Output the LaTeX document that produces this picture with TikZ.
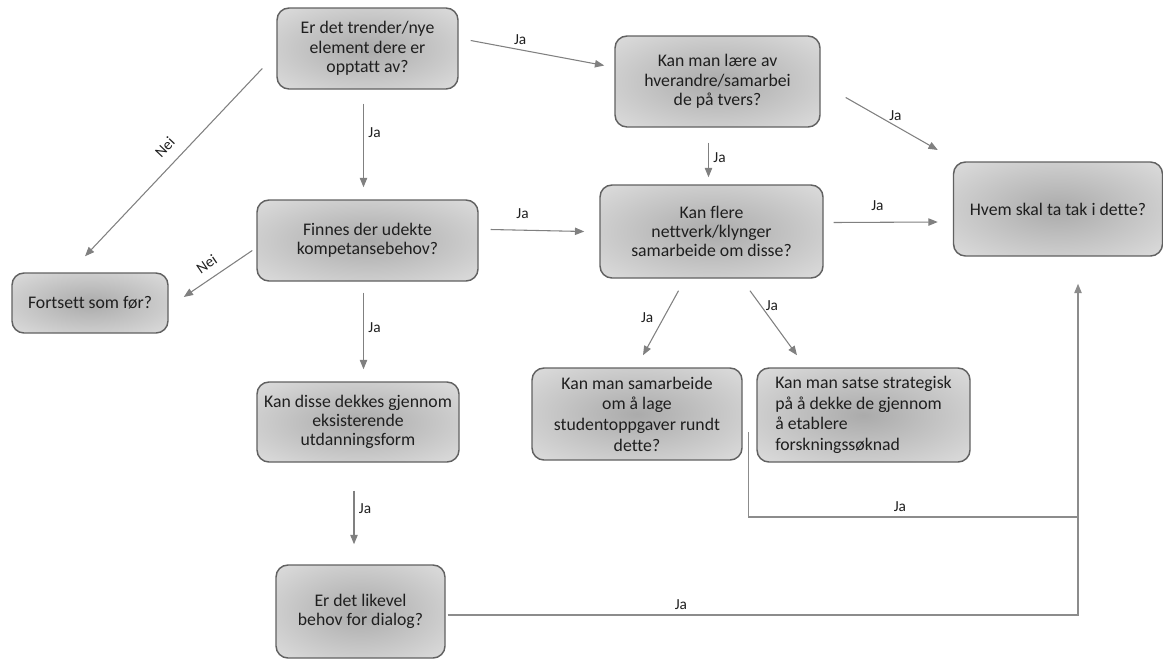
\documentclass[tikz,border=0pt]{standalone}
\usepackage{fontspec}
\setmainfont{Carlito}[Ligatures=NoCommon]
\usetikzlibrary{positioning, arrows.meta}

\pgfdeclareradialshading{boksskygge}{\pgfpoint{0bp}{0bp}}{color(0bp)=(black!33); color(44bp)=(black!9); color(50bp)=(black!9)}

\begin{document}
\begin{tikzpicture}[
                x=0.75pt, y=-0.75pt,
                >={Triangle[length=7pt, width=5.5pt]},
                boks/.style={draw=black!62, line width=1.1pt, rounded corners=9pt, align=center, shading=boksskygge, font=\fontsize{13.3}{14.5}\selectfont, text=black!88, inner sep=2pt},
                mal/.style 2 args={minimum width=#1*0.75pt, minimum height=#2*0.75pt},
                pil/.style={->, draw=black!50, line width=0.8pt},
                linje/.style={draw=black!45, line width=1pt},
                svar/.style={font=\fontsize{11.5}{12}\selectfont, text=black!88}
            ]
            \useasboundingbox (0,0) rectangle (1163,661);

            % Bokser
            \node[boks, mal={181}{81}] (trender) at (367.5,48.5) {Er det trender/nye\\element dere er\\opptatt av?};
            \node[boks, mal={205}{91}] (laere) at (717.5,81.5) {Kan man lære av\\hverandre/samarbei\\de på tvers?};
            \node[boks, mal={223}{93}] (flere) at (711.5,231.5) {Kan flere\\nettverk/klynger\\samarbeide om disse?};
            \node[boks, mal={209}{94}] (hvem) at (1058,209) {Hvem skal ta tak i dette?};
            \node[boks, mal={156}{60}] (fortsett) at (90,303) {Fortsett som før?};
            \node[boks, mal={221}{81}] (udekte) at (367.5,240.5) {Finnes der udekte\\kompetansebehov?};
            \node[boks, mal={210}{92}, font=\fontsize{13.3}{15.5}\selectfont] (studoppg) at (637,414) {Kan man samarbeide\\om å lage\\studentoppgaver rundt\\dette?};
            \node[boks, mal={213}{94}, align=left, font=\fontsize{13.3}{15.5}\selectfont] (strategi) at (863.5,415) {Kan man satse strategisk\\på å dekke de gjennom\\å etablere\\forskningssøknad};
            \node[boks, mal={202}{80}] (dekkes) at (358,422) {Kan disse dekkes gjennom\\eksisterende\\utdanningsform};
            \node[boks, mal={169}{93}] (dialog) at (360.5,611.5) {Er det likevel\\behov for dialog?};

            \coordinate (knekk) at (1078,615);
            \coordinate (samle) at (1078,517);

            % Piler
            \draw[pil] ([shift={(-14,20)}]trender.west) -- node[svar, sloped, above=5pt, pos=0.48] {Nei} ([shift={(-5,-16)}]fortsett.north);
            \draw[pil] ([shift={(-4,10)}]udekte.west) -- node[svar, sloped, above=3pt, pos=0.55] {Nei} ([shift={(15,-6)}]fortsett.east);
            \draw[pil] ([shift={(-4,14)}]trender.south) -- node[svar, right, pos=0.35] {Ja} ([shift={(-4,-12)}]udekte.north);
            \draw[pil] ([shift={(12,-8)}]trender.east) -- node[svar, above, pos=0.37] {Ja} ([shift={(-10,-16)}]laere.west);
            \draw[pil] ([shift={(12,-11)}]udekte.east) -- node[svar, above=5pt, pos=0.34] {Ja} ([shift={(-15,0)}]flere.west);
            \draw[pil] ([shift={(-9,15)}]laere.south) -- node[svar, right, pos=0.42] {Ja} ([shift={(-3,-7)}]flere.north);
            \draw[pil] ([shift={(25,16)}]laere.east) -- node[svar, above, pos=0.54] {Ja} ([shift={(-15,-59)}]hvem.west);
            \draw[pil] ([shift={(10,-9)}]flere.east) -- node[svar, above=5pt, pos=0.42] {Ja} ([shift={(-15,13)}]hvem.west);
            \draw[pil] ([shift={(-33,12)}]flere.south) -- node[svar, left=4pt, pos=0.42] {Ja} ([shift={(6,-12)}]studoppg.north);
            \draw[pil] ([shift={(38.5,12)}]flere.south) -- node[svar, right, pos=0.23] {Ja} ([shift={(-66.5,-12)}]strategi.north);
            \draw[pil] ([shift={(-4,11)}]udekte.south) -- node[svar, right, pos=0.46] {Ja} ([shift={(5.5,-12)}]dekkes.north);
            \draw[pil] ([shift={(-4,28)}]dekkes.south) -- node[svar, right, pos=0.33] {Ja} ([shift={(-6.5,-20)}]dialog.north);
            \draw[pil, linje] ([shift={(2,3.5)}]dialog.east) -- node[svar, above, pos=0.37] {Ja} (knekk) -- ([shift={(20,27)}]hvem.south);
            \draw[linje] ([shift={(-8,17)}]strategi.west) |- node[svar, above, pos=0.73] {Ja} (samle);
\end{tikzpicture}
\end{document}
